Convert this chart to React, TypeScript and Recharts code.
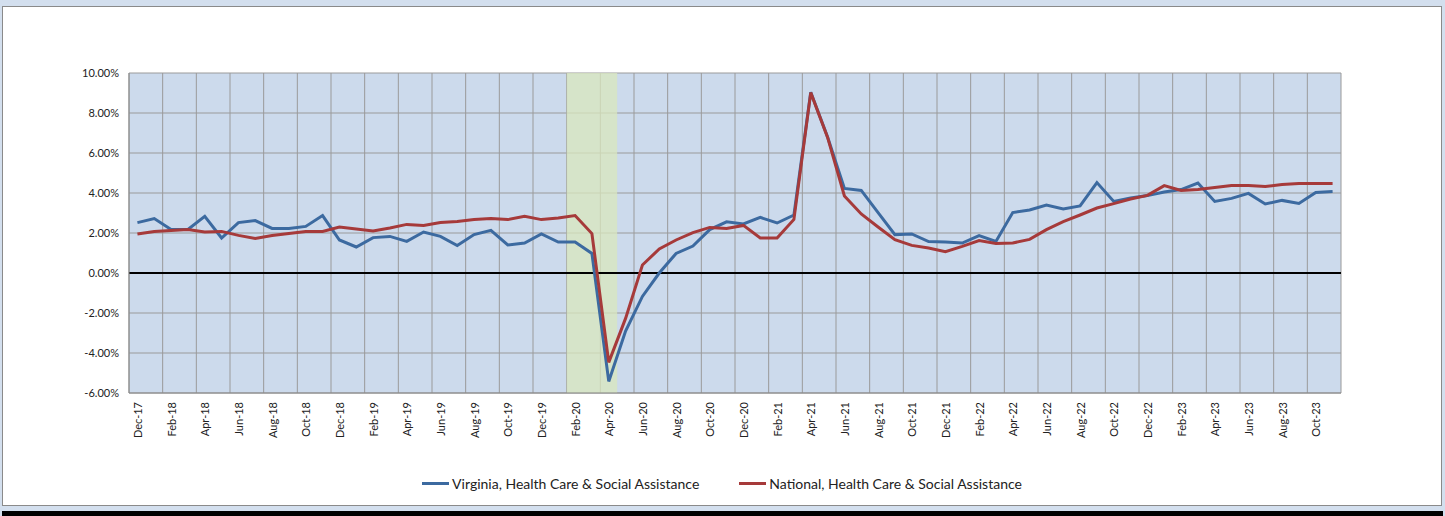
import React from "react";
import {
  ComposedChart,
  Line,
  XAxis,
  YAxis,
  CartesianGrid,
  ReferenceArea,
  ReferenceLine,
  Legend,
} from "recharts";

const months = [
  "Dec-17", "Jan-18", "Feb-18", "Mar-18", "Apr-18", "May-18", "Jun-18", "Jul-18", "Aug-18", "Sep-18", "Oct-18", "Nov-18",
  "Dec-18", "Jan-19", "Feb-19", "Mar-19", "Apr-19", "May-19", "Jun-19", "Jul-19", "Aug-19", "Sep-19", "Oct-19", "Nov-19",
  "Dec-19", "Jan-20", "Feb-20", "Mar-20", "Apr-20", "May-20", "Jun-20", "Jul-20", "Aug-20", "Sep-20", "Oct-20", "Nov-20",
  "Dec-20", "Jan-21", "Feb-21", "Mar-21", "Apr-21", "May-21", "Jun-21", "Jul-21", "Aug-21", "Sep-21", "Oct-21", "Nov-21",
  "Dec-21", "Jan-22", "Feb-22", "Mar-22", "Apr-22", "May-22", "Jun-22", "Jul-22", "Aug-22", "Sep-22", "Oct-22", "Nov-22",
  "Dec-22", "Jan-23", "Feb-23", "Mar-23", "Apr-23", "May-23", "Jun-23", "Jul-23", "Aug-23", "Sep-23", "Oct-23", "Nov-23",
];

// year-over-year change, percent
const virginia = [
  2.52, 2.72, 2.18, 2.18, 2.83, 1.75, 2.52, 2.62, 2.23, 2.23, 2.33, 2.87,
  1.65, 1.3, 1.77, 1.83, 1.58, 2.05, 1.83, 1.37, 1.92, 2.13, 1.4, 1.5,
  1.95, 1.55, 1.55, 0.98, -5.42, -2.9, -1.17, 0.0, 0.98, 1.35, 2.17, 2.56,
  2.45, 2.78, 2.5, 2.9, 9.04, 6.8, 4.23, 4.13, 3.02, 1.92, 1.95, 1.57,
  1.55, 1.5, 1.87, 1.58, 3.02, 3.15, 3.4, 3.2, 3.35, 4.52, 3.58, 3.75,
  3.87, 4.05, 4.17, 4.5, 3.58, 3.73, 3.98, 3.45, 3.63, 3.48, 4.03, 4.07,
];

const national = [
  1.95, 2.08, 2.13, 2.17, 2.05, 2.08, 1.88, 1.73, 1.88, 1.98, 2.08, 2.08,
  2.3, 2.2, 2.1, 2.25, 2.43, 2.38, 2.53, 2.58, 2.67, 2.72, 2.67, 2.83,
  2.67, 2.75, 2.87, 1.97, -4.47, -2.27, 0.4, 1.2, 1.65, 2.02, 2.28, 2.23,
  2.38, 1.75, 1.75, 2.68, 9.02, 6.78, 3.85, 2.95, 2.3, 1.67, 1.38, 1.25,
  1.07, 1.33, 1.62, 1.48, 1.5, 1.68, 2.17, 2.57, 2.9, 3.25, 3.47, 3.7,
  3.88, 4.37, 4.13, 4.17, 4.27, 4.38, 4.38, 4.32, 4.42, 4.47, 4.47, 4.47,
];

const yTicks = [-6, -4, -2, 0, 2, 4, 6, 8, 10];
const recession = ["Feb-20", "Apr-20"];
const seriesOrder = ["virginia", "national"];

const data = months.map((m, i) => ({
  month: m,
  virginia: virginia[i],
  national: national[i],
}));

const FONT = "Lato, 'Open Sans', sans-serif";

const MonthTick = ({ x, y, payload }: any) => (
  <g transform={`translate(${x},${y + 7})`}>
    <text
      transform="rotate(-90)"
      textAnchor="end"
      dominantBaseline="central"
      fontSize={11}
      fontFamily={FONT}
      fill="#222"
    >
      {payload.value}
    </text>
  </g>
);

const LegendContent = ({ payload }: any) => {
  const items = [...(payload || [])].sort(
    (a: any, b: any) => seriesOrder.indexOf(a.dataKey) - seriesOrder.indexOf(b.dataKey)
  );
  return (
    <div
      style={{
        display: "flex",
        justifyContent: "center",
        alignItems: "center",
        height: 40,
        paddingTop: 8,
        boxSizing: "border-box",
        fontFamily: FONT,
        fontSize: 14,
        color: "#222",
      }}
    >
      {items.map((p: any) => (
        <div key={p.value} style={{ display: "flex", alignItems: "center", margin: "0 20px" }}>
          <span style={{ width: 27, height: 3, background: p.color, marginRight: 3 }} />
          <span>{p.value}</span>
        </div>
      ))}
    </div>
  );
};

export default function App() {
  const gridX = ({ offset }: any) => {
    const bw = offset.width / months.length;
    const xs: number[] = [];
    for (let i = 0; i <= months.length; i += 2) xs.push(offset.left + i * bw);
    return xs;
  };

  return (
    <div style={{ position: "absolute", left: 0, top: 0, width: 1445, height: 516, background: "#D3DFEE" }}>
      <div
        style={{
          position: "absolute",
          left: 2,
          top: 6,
          width: 1440,
          height: 500,
          background: "#fff",
          border: "1px solid #8a8a8a",
          boxSizing: "border-box",
        }}
      >
        <ComposedChart
          width={1438}
          height={498}
          data={data}
          margin={{ top: 66, right: 100, left: 66, bottom: 6 }}
        >
          <CartesianGrid
            fill="#CCDAEC"
            fillOpacity={1}
            stroke="#9a9a9a"
            verticalCoordinatesGenerator={gridX}
          />
          <ReferenceArea
            x1={recession[0]}
            x2={recession[1]}
            fill="#DAE7BE"
            fillOpacity={0.75}
            stroke="none"
          />
          <XAxis
            dataKey="month"
            scale="band"
            interval={1}
            height={66}
            tick={<MonthTick />}
            tickLine={false}
            tickSize={0}
            axisLine={{ stroke: "#888" }}
          />
          <YAxis
            domain={[-6, 10]}
            ticks={yTicks}
            width={60}
            tickLine={false}
            tickSize={0}
            tickMargin={10}
            axisLine={{ stroke: "#888" }}
            tickFormatter={(v: number) => `${v.toFixed(2)}%`}
            tick={{ fontSize: 11, fontFamily: FONT, fill: "#222" }}
          />
          <ReferenceLine y={0} stroke="#000" strokeWidth={2} />
          <Line
            dataKey="virginia"
            name="Virginia, Health Care & Social Assistance"
            stroke="#3C6AA0"
            strokeWidth={3}
            dot={false}
            isAnimationActive={false}
          />
          <Line
            dataKey="national"
            name="National, Health Care & Social Assistance"
            stroke="#A63A3A"
            strokeWidth={3}
            dot={false}
            isAnimationActive={false}
          />
          <Legend
            verticalAlign="bottom"
            content={<LegendContent />}
            wrapperStyle={{ left: 0, width: 1438, height: 40 }}
          />
        </ComposedChart>
      </div>
      <div style={{ position: "absolute", left: 2, top: 511, width: 1441, height: 5, background: "#000" }} />
    </div>
  );
}
